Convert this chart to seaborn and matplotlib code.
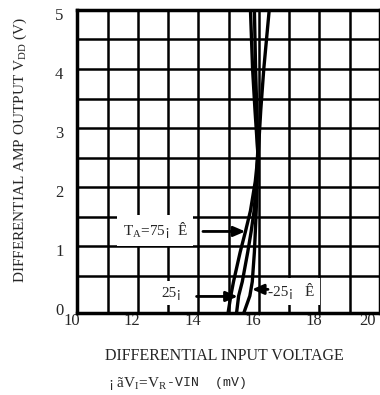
import numpy as np
import pandas as pd
import seaborn as sns
import matplotlib.pyplot as plt
from matplotlib.transforms import ScaledTranslation

# output voltage levels (V) and input voltage (mV) for each temperature
out_v = [-0.13, 0.16, 0.4, 0.9, 1.24, 1.6, 2.1, 2.6, 3.3, 4.0, 5.0]
vin_75 = [14.98, 15.07, 15.16, 15.38, 15.55, 15.72, 15.88, 15.98, 16.06, 16.16, 16.34]
vin_25 = [15.26, 15.33, 15.45, 15.63, 15.74, 15.84, 15.92, 15.96, 15.93, 15.89, 15.85]
vin_m25 = [15.50, 15.70, 15.78, 15.85, 15.88, 15.91, 15.94, 15.96, 15.87, 15.79, 15.72]

x_ticks = list(range(10, 21))
x_labels = ['10', '', '12', '', '14', '', '16', '', '18', '', '20']
y_ticks = [0, 0.5, 1, 1.5, 2, 2.5, 3, 3.5, 4, 4.5, 5]
y_labels = ['0', '', '1', '', '2', '', '3', '', '4', '', '5']

df = pd.concat([
    pd.DataFrame({'vin': vin_75, 'vout': out_v, 'temp': '75'}),
    pd.DataFrame({'vin': vin_25, 'vout': out_v, 'temp': '25'}),
    pd.DataFrame({'vin': vin_m25, 'vout': out_v, 'temp': '-25'}),
])

sns.set_style('white')
plt.rcParams['font.family'] = ['Liberation Serif', 'DejaVu Serif']
plt.rcParams['mathtext.fontset'] = 'custom'
plt.rcParams['mathtext.rm'] = 'Liberation Serif'

fig = plt.figure(figsize=(3.8, 3.95), dpi=100)
ax = fig.add_axes([0.2035, 0.2076, 0.7965, 0.7674])

sns.lineplot(data=df, x='vin', y='vout', units='temp', estimator=None, sort=False,
             color='black', lw=2.4, ax=ax, legend=False)

ax.set_xlim(10, 20)
ax.set_ylim(-0.13, 5)
ax.set_xlabel('')
ax.set_ylabel('')
ax.set_xticks(x_ticks)
ax.set_xticklabels(x_labels, fontsize=12)
ax.set_yticks(y_ticks)
ax.set_yticklabels(y_labels, fontsize=12)
ax.tick_params(axis='both', which='both', length=0)
ax.tick_params(axis='x', pad=0)
ax.tick_params(axis='y', pad=10)
ax.grid(True, color='black', lw=1.8)
ax.yaxis.get_gridlines()[0].set_visible(False)  # no line at 0, axis sits below it
ax.set_axisbelow(True)
for s in ax.spines.values():
    s.set_color('black')
    s.set_linewidth(2.5)

for i, lab in enumerate(ax.get_xticklabels()):
    dx = -13 if i == len(x_ticks) - 1 else -6
    lab.set_transform(lab.get_transform() + ScaledTranslation(dx / 100, 0, fig.dpi_scale_trans))
for lab in ax.get_yticklabels():
    lab.set_transform(lab.get_transform() + ScaledTranslation(0, -4 / 100, fig.dpi_scale_trans))

box = dict(facecolor='white', edgecolor='none', pad=4)
arrow = dict(arrowstyle='-|>,head_length=0.7,head_width=0.3', color='black', lw=2, shrinkA=0, shrinkB=0)

ax.text(11.5, 1.27, 'T$_{\\mathrm{A}}$=75¡  Ê', fontsize=11, va='center', ha='left', bbox=box, zorder=3)
ax.annotate('', xy=(15.55, 1.25), xytext=(14.15, 1.25), arrowprops=arrow, zorder=4)

ax.text(12.78, 0.2, '25¡', fontsize=11, va='center', ha='left', bbox=box, zorder=3)
ax.annotate('', xy=(15.3, 0.15), xytext=(13.94, 0.15), arrowprops=arrow, zorder=4)

ax.text(16.3, 0.24, '-25¡   Ê', fontsize=11, va='center', ha='left', bbox=box, zorder=3)
ax.annotate('', xy=(15.77, 0.27), xytext=(16.3, 0.27), arrowprops=arrow, zorder=4)

fig.text(0.59, 0.1, 'DIFFERENTIAL INPUT VOLTAGE', fontsize=11.5, ha='center', va='center')
fig.text(108 / 380, 0.03, '¡ ãV$_\\mathrm{I}$=V$_\\mathrm{R}$', fontsize=11, ha='left', va='center')
fig.text(167 / 380, 0.03, '-VIN  (mV)', fontsize=9.5, family='Liberation Mono', ha='left', va='center')
fig.text(0.053, 0.62, 'DIFFERENTIAL AMP OUTPUT V$_{\\mathrm{DD}}$ (V)', fontsize=11,
         rotation=90, ha='center', va='center')

fig.savefig('out.png', dpi=100)
